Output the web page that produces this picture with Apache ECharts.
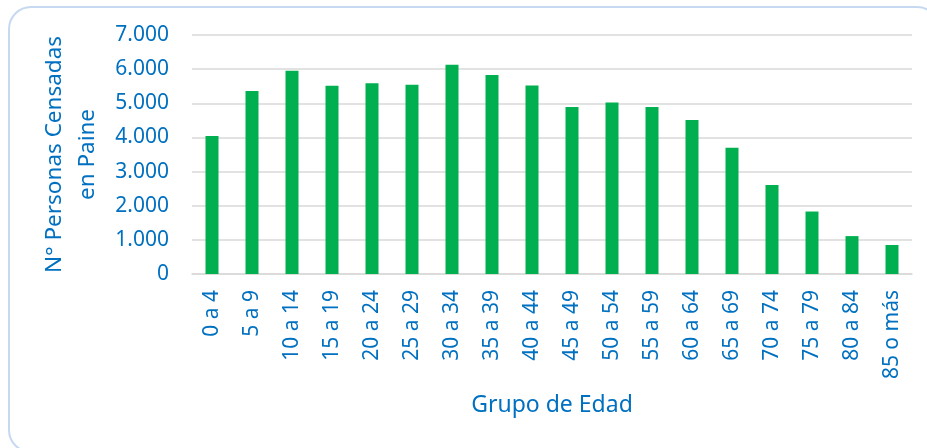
<!DOCTYPE html>
<html>
<head>
<meta charset="utf-8">
<script src="https://cdn.jsdelivr.net/npm/echarts@6/dist/echarts.min.js"></script>
<style>
  html, body { margin: 0; padding: 0; background: #fff; }
  #chart { width: 927px; height: 448px; }
</style>
</head>
<body>
<div id="chart"></div>
<script>
// grupos de edad
const categories = ['0 a 4', '5 a 9', '10 a 14', '15 a 19', '20 a 24', '25 a 29', '30 a 34', '35 a 39', '40 a 44',
  '45 a 49', '50 a 54', '55 a 59', '60 a 64', '65 a 69', '70 a 74', '75 a 79', '80 a 84', '85 o más']
// personas censadas
const values = [4040, 5360, 5950, 5510, 5590, 5540, 6130, 5830, 5520,
  4890, 5020, 4890, 4510, 3700, 2610, 1830, 1110, 850]

const blue = '#0070c0'
const font = '"Noto Sans", sans-serif'

const chart = echarts.init(document.getElementById('chart'))

const option = {
  animation: false,
  textStyle: { fontFamily: font },
  graphic: [
    {
      type: 'rect',
      shape: { x: 9, y: 7, width: 930, height: 445, r: 22 },
      style: { fill: 'none', stroke: '#c6d9f1', lineWidth: 2 },
      z: -1
    }
  ],
  grid: {
    left: 192,
    right: 15,
    top: 35,
    bottom: 174
  },
  xAxis: {
    type: 'category',
    data: categories,
    name: 'Grupo de Edad',
    nameLocation: 'middle',
    nameGap: 120,
    nameTextStyle: { color: blue, fontSize: 23, fontFamily: font },
    axisLine: { lineStyle: { color: '#d9d9d9', width: 1.5 } },
    axisTick: { show: false },
    axisLabel: {
      rotate: 90,
      margin: 16,
      color: blue,
      fontSize: 21,
      fontFamily: font,
      interval: 0
    }
  },
  yAxis: {
    type: 'value',
    min: 0,
    max: 7000,
    interval: 1000,
    name: 'N° Personas Censadas\nen Paine',
    nameLocation: 'middle',
    nameGap: 86,
    nameTextStyle: { color: blue, fontSize: 22.5, lineHeight: 33, fontFamily: font },
    axisLine: { show: false },
    axisTick: { show: false },
    splitLine: { lineStyle: { color: '#d9d9d9', width: 1.5 } },
    axisLabel: {
      margin: 23,
      color: blue,
      fontSize: 21,
      fontFamily: font,
      formatter: (v) => v.toLocaleString('de-DE')
    }
  },
  series: [
    {
      type: 'bar',
      data: values,
      barWidth: 13,
      itemStyle: { color: '#00b050' }
    }
  ]
}

chart.setOption(option)
</script>
</body>
</html>
